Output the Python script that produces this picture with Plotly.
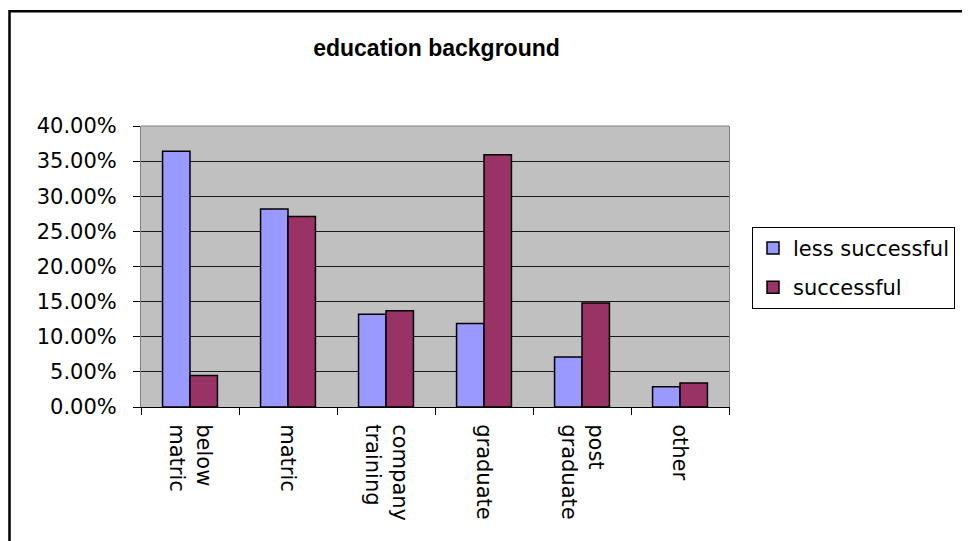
import plotly.graph_objects as go

categories = ["below<br>matric", "matric", "company<br>training", "graduate", "post<br>graduate", "other"]
less_successful = [0.364, 0.282, 0.132, 0.119, 0.071, 0.029]
successful = [0.045, 0.271, 0.137, 0.359, 0.148, 0.034]
y_ticks = [0, 0.05, 0.10, 0.15, 0.20, 0.25, 0.30, 0.35, 0.40]

OFF = 8  # page offset of the figure inside the browser window
W, H = 970 - OFF, 541 - OFF
L, T = 141 - OFF, 126 - OFF
PR, PB = 729 - OFF, 407.5 - OFF
R, B = W - PR, H - PB
pw, ph = PR - L, PB - T

def px_x(x):
    return (x - OFF - L) / pw

def px_y(y):
    return (PB - (y - OFF)) / ph

fig = go.Figure()
fig.add_trace(go.Bar(
    x=categories, y=less_successful, name="less successful",
    marker=dict(color="#9999FF", line=dict(color="#000000", width=1.5)),
    legendgroup="a",
))
fig.add_trace(go.Bar(
    x=categories, y=successful, name="successful",
    marker=dict(color="#993366", line=dict(color="#000000", width=1.5)),
    legendgroup="b",
))

tick_font = dict(family="DejaVu Sans", size=21, color="#000000")

fig.update_layout(
    width=W, height=H,
    margin=dict(l=L, r=R, t=T, b=B, pad=0),
    paper_bgcolor="#FFFFFF",
    plot_bgcolor="#C0C0C0",
    barmode="group",
    bargap=0.44,
    bargroupgap=0,
    title=dict(
        text="<b>education background</b>",
        font=dict(family="Liberation Sans", size=23, color="#000000"),
        x=(436.5 - OFF) / W, xanchor="center", xref="container",
        y=1 - (48 - OFF) / H, yanchor="middle", yref="container",
    ),
    showlegend=True,
    legend=dict(
        x=px_x(752), y=px_y(227), xanchor="left", yanchor="top",
        xref="paper", yref="paper",
        bgcolor="#FFFFFF", bordercolor="#000000", borderwidth=1,
        font=dict(family="DejaVu Sans", size=21, color="#000000"),
        traceorder="grouped", tracegroupgap=9, itemwidth=30,
        entrywidth=260, entrywidthmode="pixels",
    ),
    xaxis=dict(
        type="category",
        tickangle=90,
        tickfont=tick_font,
        showline=True, linecolor="#000000", linewidth=1,
        ticks="outside", ticklen=7, tickcolor="#000000", tickwidth=1,
        tickson="boundaries",
        ticklabelstandoff=12,
        showgrid=False, zeroline=False,
    ),
    yaxis=dict(
        range=[0, 0.40],
        tickvals=y_ticks,
        tickformat=".2%",
        tickfont=tick_font,
        showline=True, linecolor="#808080", linewidth=1, mirror=True,
        ticks="outside", ticklen=7, tickcolor="#000000", tickwidth=1,
        ticklabelstandoff=12,
        showgrid=True, gridcolor="#1a1a1a", gridwidth=1,
        zeroline=False,
    ),
    shapes=[
        dict(type="line", xref="paper", yref="paper", x0=0, x1=1, y0=1, y1=1,
             line=dict(color="#808080", width=1)),
        dict(type="rect", xref="paper", yref="paper",
             x0=px_x(9.5), x1=px_x(990), y0=px_y(560), y1=px_y(11),
             line=dict(color="#000000", width=2.5), fillcolor="rgba(0,0,0,0)"),
    ],
)

fig.write_html("out.html")
